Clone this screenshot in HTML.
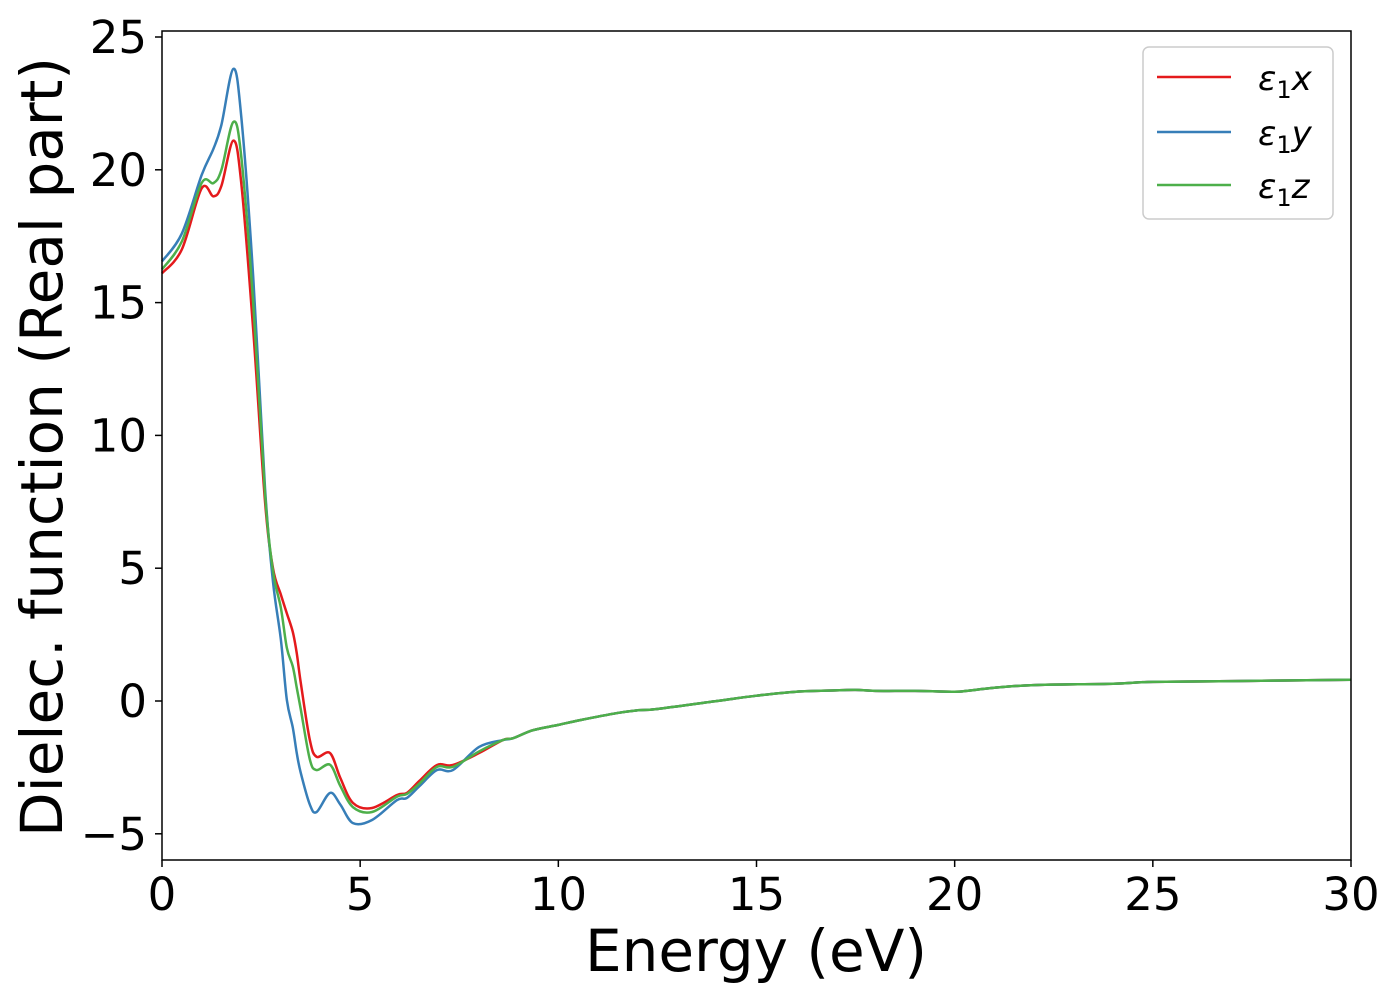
<!DOCTYPE html>
<html><head><meta charset="utf-8"><style>
body{margin:0;background:#fff;}
svg text{font-family:"DejaVu Sans","Liberation Sans",sans-serif;}
</style></head><body>
<svg id="chart" width="1400" height="1000" viewBox="0 0 1400 1000" xmlns="http://www.w3.org/2000/svg">
<rect width="1400" height="1000" fill="#fff"/>
<g id="ticks"></g>
<g id="series"></g>
<rect x="162" y="31" width="1189" height="829" fill="none" stroke="#000" stroke-width="1.5"/>
<text x="756" y="971" font-size="58" text-anchor="middle">Energy (eV)</text>
<text transform="translate(62,447) rotate(-90)" font-size="58" text-anchor="middle">Dielec. function (Real part)</text>
<g>
<rect x="1143" y="47" width="190" height="172" rx="6" fill="#fff" stroke="#ccc" stroke-width="1.5"/>
<line x1="1157" y1="77" x2="1231" y2="77" stroke="#e41a1c" stroke-width="2.5"/>
<line x1="1157" y1="132" x2="1231" y2="132" stroke="#377eb8" stroke-width="2.5"/>
<line x1="1157" y1="185" x2="1231" y2="185" stroke="#4daf4a" stroke-width="2.5"/>
<text x="1258" y="90" font-size="34" font-style="italic">ε<tspan font-style="normal" font-size="24" dy="8">1</tspan><tspan dy="-8">x</tspan></text>
<text x="1258" y="145" font-size="34" font-style="italic">ε<tspan font-style="normal" font-size="24" dy="8">1</tspan><tspan dy="-8">y</tspan></text>
<text x="1258" y="198" font-size="34" font-style="italic">ε<tspan font-style="normal" font-size="24" dy="8">1</tspan><tspan dy="-8">z</tspan></text>
</g>
</svg>
<script>
const energies = [0,0.5,1.0,1.3,1.5,1.8,2.0,2.3,2.6,2.8,3.0,3.15,3.3,3.4,3.5,3.73,3.9,4.24,4.5,4.82,5.3,5.93,6.18,6.5,6.94,7.34,8.0,8.6,8.86,9.36,10.0,10.55,11.5,12,12.5,14,15,16,17,17.5,18,19,20,20.3,21,22,24,25,27,30];
const epsX = [16.1,17.0,19.3,19.0,19.4,21.1,19.5,14.0,7.5,5.0,4.0,3.3,2.6,1.8,0.7,-1.47,-2.1,-1.96,-2.9,-3.84,-4.03,-3.54,-3.46,-3.0,-2.41,-2.41,-1.96,-1.47,-1.4,-1.1,-0.9,-0.72,-0.45,-0.35,-0.3,0.0,0.2,0.35,0.4,0.42,0.38,0.38,0.35,0.38,0.5,0.6,0.65,0.72,0.75,0.8];
const epsY = [16.55,17.6,19.8,20.8,21.7,23.8,22.0,16.0,8.0,4.5,2.3,0.04,-1.0,-1.96,-2.7,-3.9,-4.18,-3.46,-3.9,-4.6,-4.48,-3.73,-3.65,-3.2,-2.6,-2.6,-1.73,-1.47,-1.4,-1.1,-0.9,-0.72,-0.45,-0.35,-0.3,0.0,0.2,0.35,0.4,0.42,0.38,0.38,0.35,0.38,0.5,0.6,0.65,0.72,0.75,0.8];
const epsZ = [16.25,17.3,19.5,19.5,20.0,21.8,20.5,15.0,7.8,4.9,3.5,2.0,1.3,0.5,-0.3,-2.2,-2.6,-2.4,-3.2,-4.0,-4.18,-3.6,-3.5,-3.1,-2.48,-2.48,-1.9,-1.47,-1.4,-1.1,-0.9,-0.72,-0.45,-0.35,-0.3,0.0,0.2,0.35,0.4,0.42,0.38,0.38,0.35,0.38,0.5,0.6,0.65,0.72,0.75,0.8];
const xTicks = [0,5,10,15,20,25,30];
const yTicks = [-5,0,5,10,15,20,25];

const X0=162, X1=1351, XMIN=0, XMAX=30;
const Y0=701, YPER=26.56;
function sx(v){return X0+(v-XMIN)/(XMAX-XMIN)*(X1-X0);}
function sy(v){return Y0-v*YPER;}
const NS="http://www.w3.org/2000/svg";
const ticks=document.getElementById('ticks');
xTicks.forEach(t=>{
  const l=document.createElementNS(NS,'line');
  
  
  l.setAttribute('x1',sx(t));l.setAttribute('x2',sx(t));l.setAttribute('y1',860);l.setAttribute('y2',867);
  l.setAttribute('stroke','#000');l.setAttribute('stroke-width','1.5');ticks.appendChild(l);
  const tx=document.createElementNS(NS,'text');
  
  
  tx.setAttribute('x',sx(t));tx.setAttribute('y',910);tx.setAttribute('font-size','45');tx.setAttribute('text-anchor','middle');
  tx.textContent=t;ticks.appendChild(tx);
});
yTicks.forEach(t=>{
  const l=document.createElementNS(NS,'line');
  
  
  l.setAttribute('x1',155);l.setAttribute('x2',162);l.setAttribute('y1',sy(t));l.setAttribute('y2',sy(t));
  l.setAttribute('stroke','#000');l.setAttribute('stroke-width','1.5');ticks.appendChild(l);
  const tx=document.createElementNS(NS,'text');
  
  
  tx.setAttribute('x',147);tx.setAttribute('y',sy(t)+16);tx.setAttribute('font-size','45');tx.setAttribute('text-anchor','end');
  tx.textContent=t<0?'\u2212'+(-t):t;ticks.appendChild(tx);
});
function pathFor(vals){
  const p=energies.map((e,i)=>[sx(e),sy(vals[i])]);
  let d='M'+p[0][0]+','+p[0][1];
  for(let i=0;i<p.length-1;i++){
    const a=p[Math.max(0,i-1)],b=p[i],c=p[i+1],n=p[Math.min(p.length-1,i+2)];
    const c1=[b[0]+(c[0]-a[0])/6,b[1]+(c[1]-a[1])/6];
    const c2=[c[0]-(n[0]-b[0])/6,c[1]-(n[1]-b[1])/6];
    d+=' C'+c1.join(',')+' '+c2.join(',')+' '+c.join(',');
  }
  return d;
}
const series=document.getElementById('series');
[[epsX,'#e41a1c','series-eps1-x'],[epsY,'#377eb8','series-eps1-y'],[epsZ,'#4daf4a','series-eps1-z']].forEach(s=>{
  const path=document.createElementNS(NS,'path');
  
  
  path.setAttribute('d',pathFor(s[0]));path.setAttribute('fill','none');
  path.setAttribute('stroke',s[1]);path.setAttribute('stroke-width','2.5');
  series.appendChild(path);
});
</script>
</body></html>
